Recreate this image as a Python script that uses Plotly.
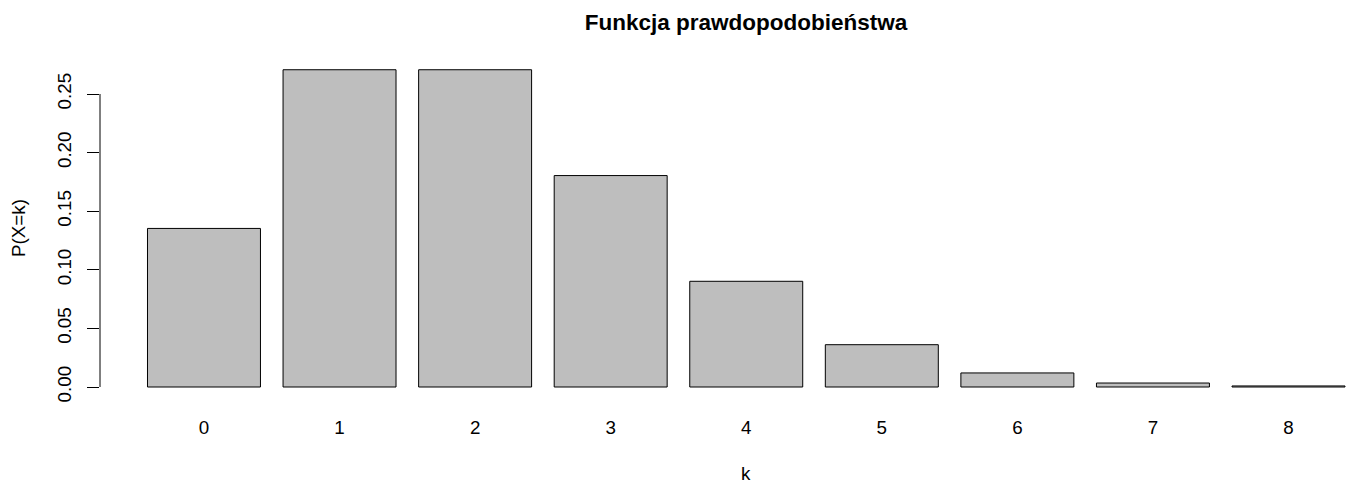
import plotly.graph_objects as go

categories = ["0", "1", "2", "3", "4", "5", "6", "7", "8"]
probabilities = [0.1353, 0.2707, 0.2707, 0.1804, 0.0902, 0.0361, 0.0120, 0.0034, 0.0009]
y_tick_values = [0.00, 0.05, 0.10, 0.15, 0.20, 0.25]
y_tick_labels = ["0.00", "0.05", "0.10", "0.15", "0.20", "0.25"]

FONT = "Liberation Sans, Arial, Helvetica, sans-serif"
FS = 18.8
W, H = 1350, 482
ML, MR, MT, MB = 100, 0, 57, 82
plot_w = W - ML - MR
plot_h = H - MT - MB
cx = (746 - ML) / plot_w

fig = go.Figure()
fig.add_trace(go.Bar(
    x=categories, y=probabilities,
    marker=dict(color="#BEBEBE", line=dict(color="black", width=1)),
    hoverinfo="x+y",
))

fig.update_layout(
    width=W, height=H,
    margin=dict(l=ML, r=MR, t=MT, b=MB, pad=0),
    plot_bgcolor="white", paper_bgcolor="white",
    bargap=1 - 1 / 1.2,
    showlegend=False,
    font=dict(family=FONT, size=FS, color="black"),
    title=dict(
        text="<b>Funkcja prawdopodobieństwa</b>",
        x=cx, xref="paper", xanchor="center",
        y=1 - 22 / H, yref="container", yanchor="middle",
        font=dict(family=FONT, size=22.5, color="black"),
    ),
    xaxis=dict(
        type="category", range=[-0.767, 8.4536],
        showline=False, showgrid=False, zeroline=False,
        ticks="", ticklabelstandoff=14,
        tickfont=dict(size=FS),
    ),
    yaxis=dict(
        range=[-(MT + plot_h - 387) / 1172, (387 - MT) / 1172],
        tickvals=y_tick_values, ticktext=y_tick_labels,
        tickangle=-90,
        showline=False, showgrid=False, zeroline=False,
        ticks="outside", ticklen=12, tickwidth=1, tickcolor="black",
        ticklabelstandoff=8,
        tickfont=dict(size=FS),
    ),
)

# y axis line spanning only the tick range (R style)
fig.add_shape(type="line", xref="paper", yref="y",
              x0=0, x1=0, y0=y_tick_values[0], y1=y_tick_values[-1],
              line=dict(color="black", width=1))

fig.add_annotation(text="P(X=k)", xref="paper", yref="paper",
                   x=(18.5 - ML) / plot_w, y=0.5, xanchor="center", yanchor="middle",
                   textangle=-90, showarrow=False, font=dict(size=FS))
fig.add_annotation(text="k", xref="paper", yref="paper",
                   x=cx, y=-(473 - (MT + plot_h)) / plot_h,
                   xanchor="center", yanchor="middle", height=16, valign="middle",
                   showarrow=False, font=dict(size=FS))

fig.write_html(
    "out.html",
    config={"displayModeBar": False},
    post_script="document.body.style.margin='0';document.body.style.overflow='hidden';",
)
